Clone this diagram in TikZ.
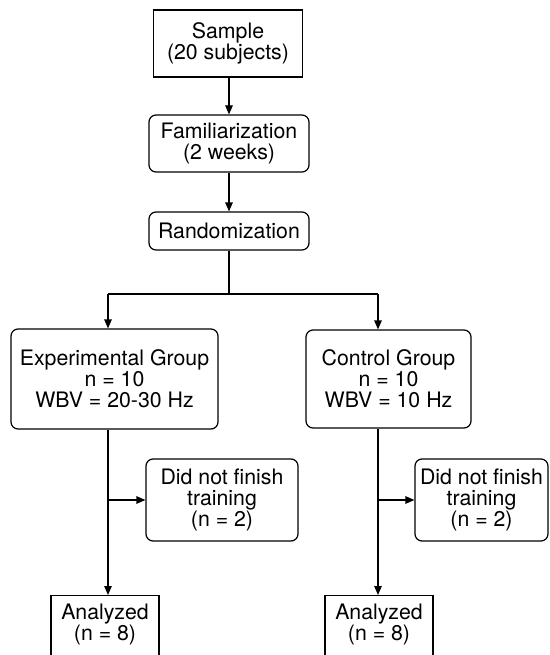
\documentclass[tikz,border=0pt]{standalone}
\usepackage{fontspec}
\setmainfont{TeX Gyre Heros}
\usetikzlibrary{arrows.meta}
\begin{document}
\begin{tikzpicture}[x=1pt,y=-1pt,
  every node/.style={font=\fontsize{21.3}{21}\selectfont, align=center, inner sep=0pt, line width=1.2pt},
  sq/.style={draw, rectangle},
  rbox/.style={draw, rectangle, rounded corners=7pt},
  arr/.style={line width=1.2pt, -{Triangle[length=9pt,width=7.5pt]}},
  ln/.style={line width=1.2pt}]
\useasboundingbox (0,0) rectangle (549,655);
\clip (0,0) rectangle (549,655);
\node[sq, minimum width=149pt, minimum height=67pt] (sample) at (228,43.5) {Sample\\(20 subjects)};
\node[rbox, minimum width=160pt, minimum height=57pt] (fam) at (229,143.5) {Familiarization\\(2 weeks)};
\node[rbox, minimum width=160pt, minimum height=38pt] (rand) at (229,231) {Randomization};
\node[rbox, minimum width=207pt, minimum height=100pt] (exp) at (114.5,379) {Experimental Group\\n = 10\\WBV = 20-30 Hz};
\node[rbox, minimum width=165pt, minimum height=98pt] (ctrl) at (388.5,379) {Control Group\\n = 10\\WBV = 10 Hz};
\node[rbox, minimum width=152pt, minimum height=82pt] (dnf1) at (222,500) {Did not finish\\training\\(n = 2)};
\node[rbox, minimum width=133pt, minimum height=82pt] (dnf2) at (481.5,500) {Did not finish\\training\\(n = 2)};
\node[sq, minimum width=108pt, minimum height=80pt, anchor=north] (an1) at (105,595) {};
\node[anchor=north] (an1t) at (105,603) {Analyzed\\(n = 8)};
\node[sq, minimum width=108pt, minimum height=80pt, anchor=north] (an2) at (379,595) {};
\node[anchor=north] (an2t) at (379,603) {Analyzed\\(n = 8)};
\coordinate (L) at (108,294);
\coordinate (R) at (378,294);
\coordinate (M) at (229,294);
\draw[arr] (sample.south -| fam.north) -- (fam.north);
\draw[arr] (fam.south) -- (rand.north);
\draw[ln] (rand.south) -- (M);
\draw[ln] (L) -- (R);
\draw[arr] (L) -- (L |- exp.north);
\draw[arr] (R) -- (R |- ctrl.north);
\draw[arr] (L |- exp.south) -- (L |- an1.north);
\draw[arr] (R |- ctrl.south) -- (R |- an2.north);
\draw[arr] (L |- dnf1.west) -- (dnf1.west);
\draw[arr] (R |- dnf2.west) -- (dnf2.west);
\end{tikzpicture}
\end{document}
